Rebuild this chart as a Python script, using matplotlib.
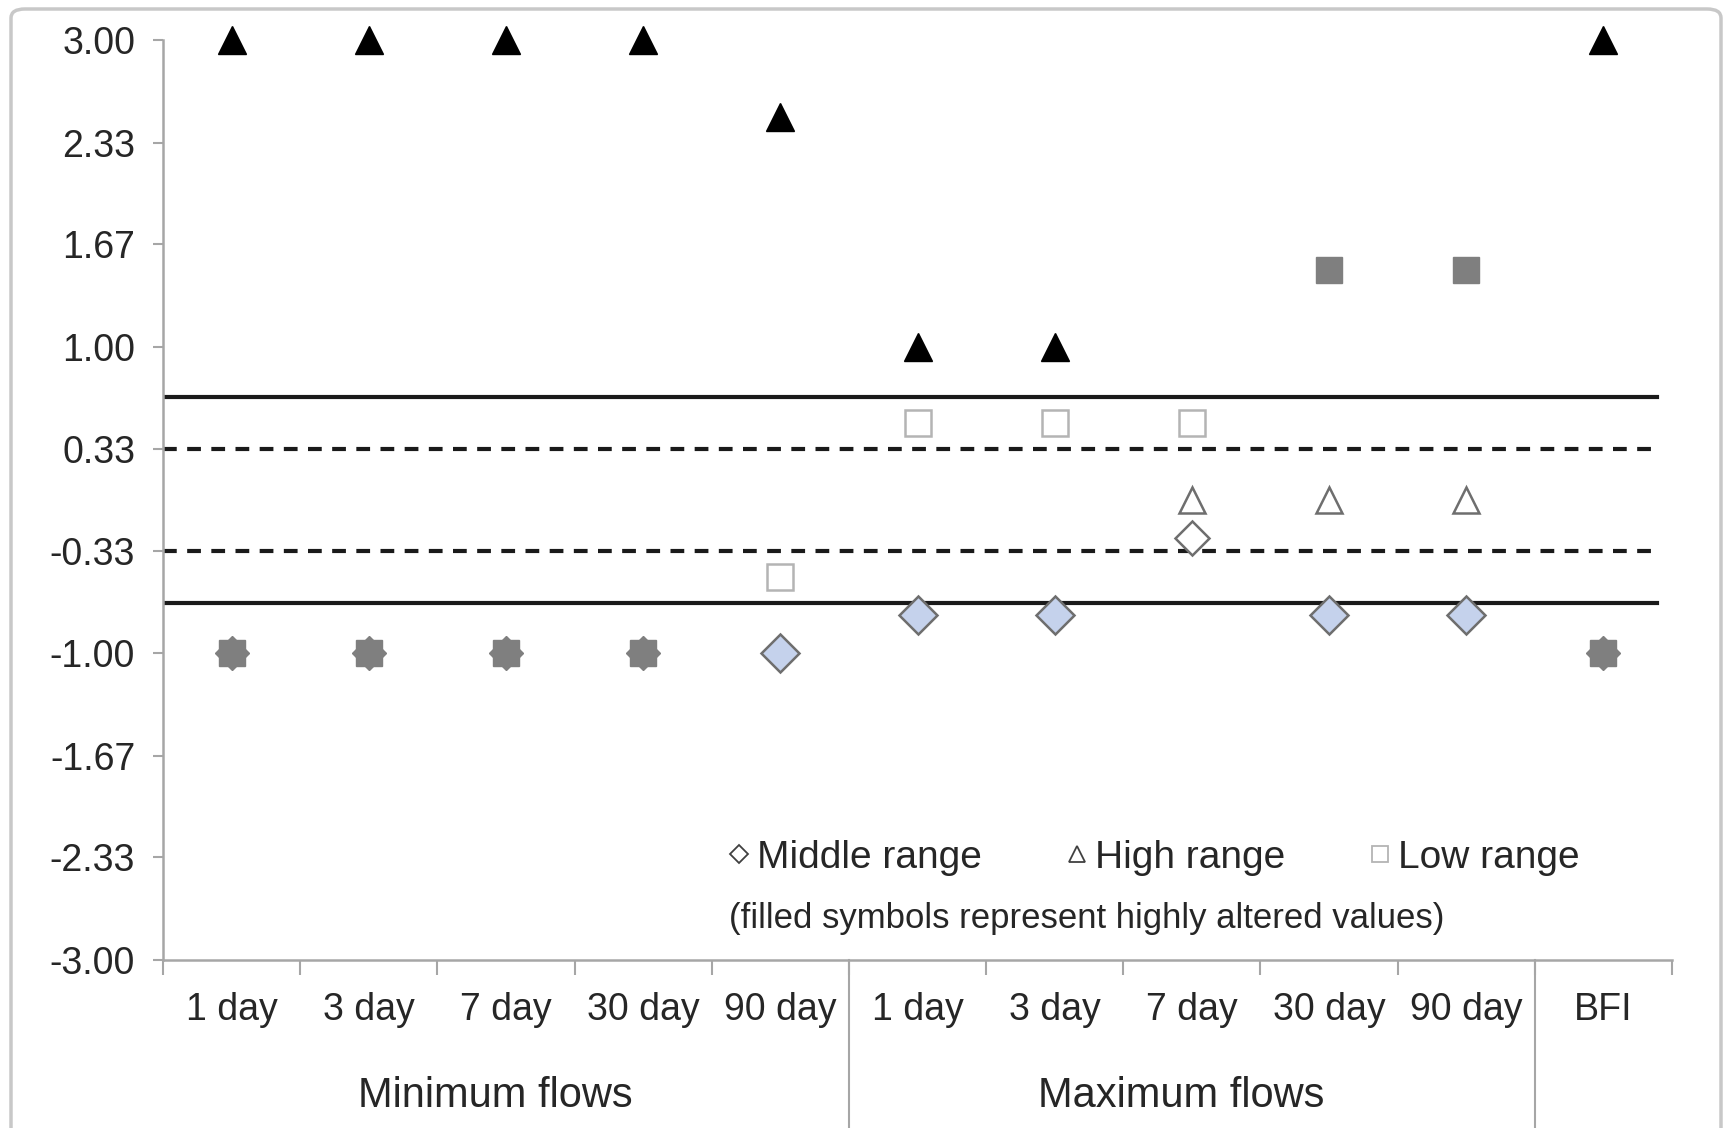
import numpy as np
import matplotlib
matplotlib.use("Agg")
import matplotlib.pyplot as plt
from matplotlib.lines import Line2D
from matplotlib.patches import FancyBboxPatch
import matplotlib.transforms as mtransforms

plt.rcParams["font.family"] = ["Liberation Sans", "DejaVu Sans"]

# ---------------- data ----------------
categories = ["1 day", "3 day", "7 day", "30 day", "90 day",
              "1 day", "3 day", "7 day", "30 day", "90 day", "BFI"]
group_names = ["Minimum flows", "Maximum flows", ""]
group_sizes = [5, 5, 1]

yticks = [3.00, 2.33, 1.67, 1.00, 0.33, -0.33, -1.00, -1.67, -2.33, -3.00]
solid_lines = [0.67, -0.67]
dashed_lines = [0.33, -0.33]

# high range, highly altered (black triangles)
high_alt_idx = [0, 1, 2, 3, 4, 5, 6, 10]
high_alt_val = [3.0, 3.0, 3.0, 3.0, 2.5, 1.0, 1.0, 3.0]
# low range, highly altered (grey squares)
low_alt_idx = [0, 1, 2, 3, 8, 9, 10]
low_alt_val = [-1.0, -1.0, -1.0, -1.0, 1.5, 1.5, -1.0]
# middle range, highly altered (grey diamonds)
mid_alt_idx = [0, 1, 2, 3, 10]
mid_alt_val = [-1.0, -1.0, -1.0, -1.0, -1.0]
# middle range (light blue diamonds)
mid_blue_idx = [4, 5, 6, 8, 9]
mid_blue_val = [-1.0, -0.75, -0.75, -0.75, -0.75]
# open symbols
low_open_idx = [4, 5, 6, 7]
low_open_val = [-0.5, 0.5, 0.5, 0.5]
high_open_idx = [7, 8, 9]
high_open_val = [0.0, 0.0, 0.0]
mid_open_idx = [7]
mid_open_val = [-0.25]

W, H = 1730, 1128
fig = plt.figure(figsize=(W / 100, H / 100), dpi=100)
ax = fig.add_axes([163 / W, 1 - 960 / H, (1672 - 163) / W, (960 - 40) / H])

# outer rounded frame
fig.patches.append(FancyBboxPatch((11 / W, -0.05), (1710 / W), 1.05 - 9 / H,
                                  boxstyle="round,pad=0,rounding_size=0.008",
                                  transform=fig.transFigure, fill=False,
                                  edgecolor="#c8c8c8", linewidth=2.5))

xpos = np.arange(len(categories))

for v in solid_lines:
    ax.axhline(v, xmin=0, xmax=0.99, color="#1a1a1a", lw=3, zorder=1)
for v in dashed_lines:
    ax.axhline(v, xmin=0, xmax=0.99, color="#1a1a1a", lw=3,
               ls=(0, (3.3, 2.5)), zorder=1)

ax.plot(xpos[low_alt_idx], low_alt_val, ls="none", marker="s", ms=19,
        mfc="#7f7f7f", mec="#7f7f7f", zorder=3, clip_on=False)
ax.plot(xpos[mid_alt_idx], mid_alt_val, ls="none", marker="D", ms=17,
        mfc="#7f7f7f", mec="#7f7f7f", zorder=3, clip_on=False)
ax.plot(xpos[mid_blue_idx], mid_blue_val, ls="none", marker="D", ms=19,
        mfc="#c5d2ec", mec="#6e6e6e", mew=1.8, zorder=3, clip_on=False)
ax.plot(xpos[low_open_idx], low_open_val, ls="none", marker="s", ms=19,
        mfc="white", mec="#b4b4b4", mew=1.8, zorder=3, clip_on=False)
ax.plot(xpos[high_open_idx], high_open_val, ls="none", marker="^", ms=19,
        mfc="white", mec="#6e6e6e", mew=1.8, zorder=3, clip_on=False)
ax.plot(xpos[mid_open_idx], mid_open_val, ls="none", marker="D", ms=17,
        mfc="white", mec="#6e6e6e", mew=1.8, zorder=3, clip_on=False)
ax.plot(xpos[high_alt_idx], high_alt_val, ls="none", marker="^", ms=20,
        mfc="black", mec="black", zorder=4, clip_on=False)

ax.set_xlim(-0.5, len(categories) - 0.5)
ax.set_ylim(-3, 3)

# spines
for s in ["top", "right"]:
    ax.spines[s].set_visible(False)
for s in ["left", "bottom"]:
    ax.spines[s].set_color("#a6a6a6")
    ax.spines[s].set_linewidth(1.8)

ax.set_yticks(yticks)
ax.set_yticklabels(["%.2f" % v for v in yticks])
ax.tick_params(axis="y", direction="out", length=7, width=1.5,
               color="#a6a6a6", labelsize=27, labelcolor="#262626", pad=13)

ax.set_xticks(xpos)
ax.set_xticklabels(categories)
ax.set_xticks(np.arange(-0.5, len(categories)), minor=True)
ax.tick_params(axis="x", which="major", length=0, labelsize=27,
               labelcolor="#262626", pad=23)
ax.tick_params(axis="x", which="minor", direction="out", length=11,
               width=1.5, color="#a6a6a6")

# group labels and separators
trans = mtransforms.blended_transform_factory(ax.transData, ax.transAxes)
start = 0
for name, n in zip(group_names, group_sizes):
    mid = start + (n - 1) / 2 - 0.08
    if name:
        ax.text(mid, -0.148, name, transform=trans, ha="center", va="center",
                fontsize=30, color="#262626")
    start += n
    if start < len(categories):
        ax.add_line(Line2D([start - 0.5, start - 0.5], [0, -0.2],
                           transform=trans, color="#a6a6a6", lw=1.5,
                           clip_on=False))

# legend
handles = [
    Line2D([], [], ls="none", marker="D", ms=9, mfc="white", mec="#404040", mew=1.3),
    Line2D([], [], ls="none", marker="^", ms=11, mfc="white", mec="#404040", mew=1.3),
    Line2D([], [], ls="none", marker="s", ms=12, mfc="white", mec="#b4b4b4", mew=1.3),
]
leg = ax.legend(handles, ["Middle range", "High range", "Low range"],
                loc="center", bbox_to_anchor=(0.657, 0.111), ncol=3,
                frameon=False, handlelength=0.5,
                handletextpad=0.2, columnspacing=2.2,
                prop={"family": "Liberation Sans", "size": 28})
for t in leg.get_texts():
    t.set_color("#262626")
ax.text(0.612, 0.045, "(filled symbols represent highly altered values)",
        transform=ax.transAxes, ha="center", va="center", fontsize=25,
        color="#262626")

fig.savefig("out.png", dpi=100)
